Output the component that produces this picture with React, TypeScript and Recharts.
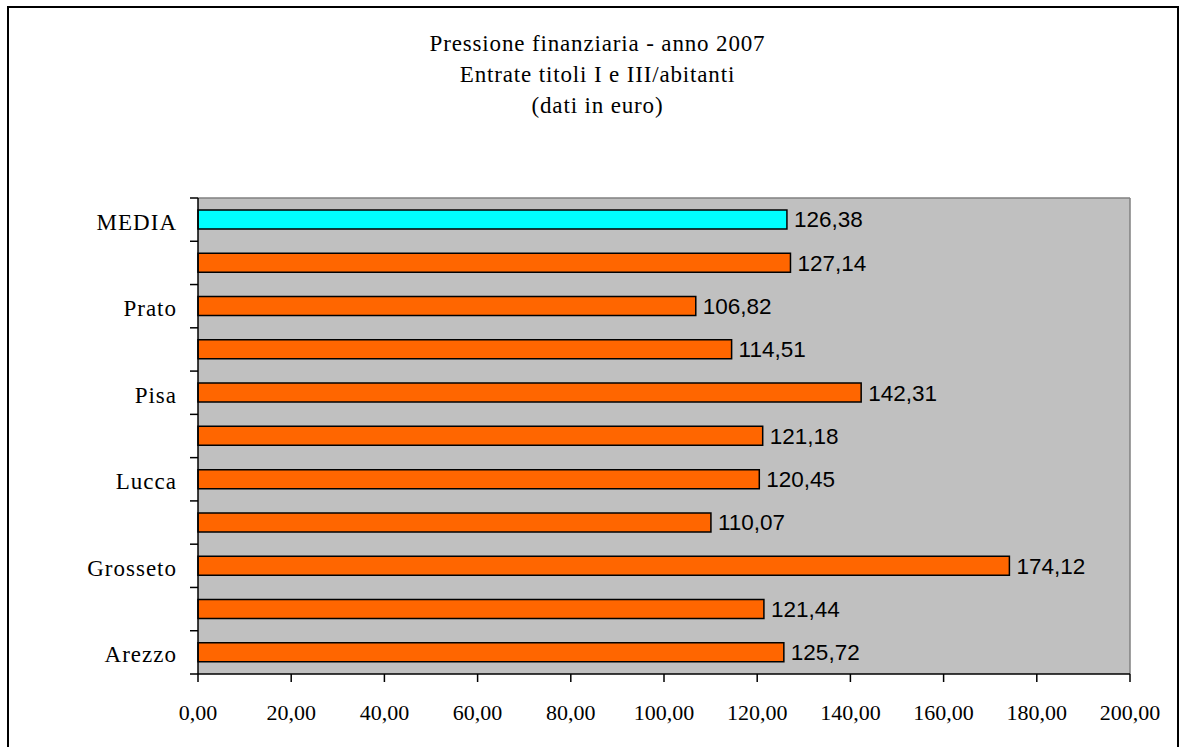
import { Bar, BarChart, CartesianGrid, Cell, LabelList, XAxis, YAxis } from "recharts";

// top to bottom, as drawn
const categories = [
  "MEDIA",
  "Siena",
  "Prato",
  "Pistoia",
  "Pisa",
  "Massa-Carrara",
  "Lucca",
  "Livorno",
  "Grosseto",
  "Firenze",
  "Arezzo",
];
const values = [126.38, 127.14, 106.82, 114.51, 142.31, 121.18, 120.45, 110.07, 174.12, 121.44, 125.72];
const xTicks = [0, 20, 40, 60, 80, 100, 120, 140, 160, 180, 200];
const titleLines = ["Pressione finanziaria - anno 2007", "Entrate titoli I e III/abitanti", "(dati in euro)"];

const data = categories.map((name, i) => ({ name, value: values[i] }));

const serif = '"Liberation Serif", "Times New Roman", serif';
const sans = '"Liberation Sans", Arial, sans-serif';

const W = 1183;
const H = 747;
const PLOT_TOP = 198;
const PLOT_LEFT = 198;
const PLOT_RIGHT = 1130;
const PLOT_BOTTOM = 674;
const Y_AXIS_W = 190;
const X_AXIS_H = 60;
const TICK = 8;
const bandH = (PLOT_BOTTOM - PLOT_TOP) / categories.length;

const fmt = (v: number) => v.toFixed(2).replace(".", ",");

function CategoryTick(props: any) {
  const { y, payload, index } = props;
  const cy = payload?.coordinate ?? y;
  const top = cy - bandH / 2;
  const last = index === categories.length - 1;
  return (
    <g>
      <line x1={PLOT_LEFT - TICK} x2={PLOT_LEFT} y1={top} y2={top} stroke="#000" strokeWidth={1.5} />
      {last && (
        <line x1={PLOT_LEFT - TICK} x2={PLOT_LEFT} y1={cy + bandH / 2} y2={cy + bandH / 2} stroke="#000" strokeWidth={1.5} />
      )}
      {index % 2 === 0 && (
        <text
          x={PLOT_LEFT - TICK - 13}
          y={cy}
          dy="0.44em"
          textAnchor="end"
          fontFamily={serif}
          fontSize={23}
          letterSpacing={1}
          fill="#000"
        >
          {payload.value}
        </text>
      )}
    </g>
  );
}

export default function App() {
  return (
    <div style={{ position: "absolute", left: 0, top: 0, width: W, height: H, background: "#fff", overflow: "hidden" }}>
      <div
        style={{
          position: "absolute",
          left: 7,
          top: 6,
          width: 1168,
          height: 760,
          border: "2px solid #000",
        }}
      />
      <div
        style={{
          position: "absolute",
          left: 0,
          top: 28,
          width: 1195,
          textAlign: "center",
          fontFamily: serif,
          fontSize: 23,
          letterSpacing: "0.85px",
          lineHeight: "31px",
          color: "#000",
        }}
      >
        {titleLines.map((t) => (
          <div key={t}>{t}</div>
        ))}
      </div>
      <div style={{ position: "absolute", left: 0, top: 0 }}>
        <BarChart
          width={W}
          height={H}
          data={data}
          layout="vertical"
          barSize={19}
          margin={{
            top: PLOT_TOP,
            right: W - PLOT_RIGHT,
            bottom: H - PLOT_BOTTOM - X_AXIS_H,
            left: PLOT_LEFT - Y_AXIS_W,
          }}
        >
          <CartesianGrid
            fill="#C0C0C0"
            fillOpacity={1}
            stroke="#808080"
            strokeWidth={1.5}
            horizontalCoordinatesGenerator={({ offset }: any) => [offset.top]}
            verticalCoordinatesGenerator={({ offset }: any) => [offset.left + offset.width]}
          />
          <XAxis
            type="number"
            domain={[0, 200]}
            ticks={xTicks}
            tickFormatter={fmt}
            height={X_AXIS_H}
            tickSize={TICK}
            tickMargin={22}
            axisLine={{ stroke: "#000", strokeWidth: 1.5 }}
            tickLine={{ stroke: "#000", strokeWidth: 1.5 }}
            tick={{ fill: "#000", fontFamily: serif, fontSize: 22 }}
            interval={0}
          />
          <YAxis
            type="category"
            dataKey="name"
            width={Y_AXIS_W}
            interval={0}
            tickLine={false}
            axisLine={{ stroke: "#000", strokeWidth: 1.5 }}
            tick={<CategoryTick />}
          />
          <Bar dataKey="value" stroke="#000" strokeWidth={1.5} isAnimationActive={false}>
            {data.map((d, i) => (
              <Cell key={d.name} fill={i === 0 ? "#00FFFF" : "#FF6600"} />
            ))}
            <LabelList
              dataKey="value"
              position="right"
              offset={7}
              formatter={(v: any) => fmt(Number(v))}
              style={{ fill: "#000", fontFamily: sans, fontSize: 22.5 }}
            />
          </Bar>
        </BarChart>
      </div>
    </div>
  );
}
